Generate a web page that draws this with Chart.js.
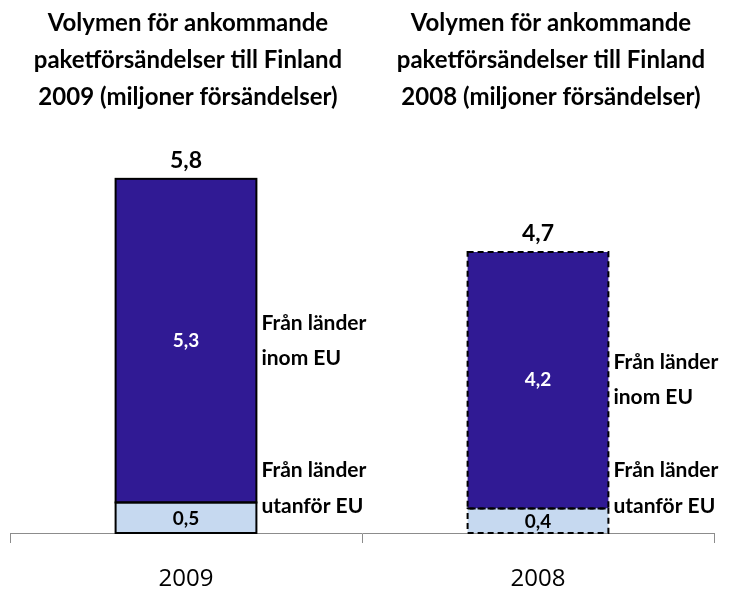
<!DOCTYPE html>
<html>
<head>
<meta charset="utf-8">
<script src="https://cdn.jsdelivr.net/npm/chart.js@4/dist/chart.umd.min.js"></script>
<style>
  html, body { margin: 0; padding: 0; background: #fff; }
  #wrap { width: 746px; height: 593px; }
</style>
</head>
<body>
<div id="wrap"><canvas id="chart"></canvas></div>
<script>
// Years on the x axis
const years = ['2009', '2008'];
// Parcel volumes, millions of items
const outsideEU = [0.5, 0.4];
const insideEU = [5.3, 4.2];
const totals = [5.8, 4.7];
// Headings above each bar
const headings = [
    ['Volymen för ankommande', 'paketförsändelser till Finland', '2009 (miljoner försändelser)'],
    ['Volymen för ankommande', 'paketförsändelser till Finland', '2008 (miljoner försändelser)']
];
const insideLabel = ['Från länder', 'inom EU'];
const outsideLabel = ['Från länder', 'utanför EU'];

const fmt = v => v.toFixed(1).replace('.', ',');
const FONT = 'Lato, "Open Sans", sans-serif';

// Draws borders (solid for 2009, dashed for 2008), value labels and side texts
const annotate = {
    id: 'annotate',
    afterDatasetsDraw(chart) {
        const ctx = chart.ctx;
        const xs = chart.scales.x;
        ctx.save();

        // borders
        chart.data.datasets.forEach((ds, di) => {
            chart.getDatasetMeta(di).data.forEach((bar, i) => {
                const left = bar.x - bar.width / 2;
                const top = Math.min(bar.y, bar.base);
                const h = Math.abs(bar.base - bar.y);
                ctx.lineWidth = 2;
                ctx.strokeStyle = '#000';
                ctx.setLineDash(i === 1 ? [6, 4] : []);
                ctx.strokeRect(left, top, bar.width, h);
            });
        });
        ctx.setLineDash([]);

        ctx.textAlign = 'center';
        ctx.textBaseline = 'middle';

        // segment values
        const outerMeta = chart.getDatasetMeta(0);
        const innerMeta = chart.getDatasetMeta(1);
        ctx.font = 'bold 19px ' + FONT;
        outerMeta.data.forEach((bar, i) => {
            ctx.fillStyle = '#000';
            ctx.fillText(fmt(outsideEU[i]), bar.x, (bar.y + bar.base) / 2 + 1);
        });
        innerMeta.data.forEach((bar, i) => {
            ctx.fillStyle = '#fff';
            ctx.fillText(fmt(insideEU[i]), bar.x, (bar.y + bar.base) / 2);
        });

        ctx.textBaseline = 'alphabetic';

        // totals above bars
        ctx.font = 'bold 23px ' + FONT;
        ctx.fillStyle = '#000';
        innerMeta.data.forEach((bar, i) => {
            ctx.fillText(fmt(totals[i]), bar.x, bar.y - 11);
        });

        // side labels
        ctx.textAlign = 'left';
        ctx.font = 'bold 21px ' + FONT;
        innerMeta.data.forEach((bar, i) => {
            const tx = bar.x + bar.width / 2 + 5;
            const mid = (bar.y + bar.base) / 2;
            ctx.fillText(insideLabel[0], tx, mid - 11);
            ctx.fillText(insideLabel[1], tx, mid + 24);
            const base = outerMeta.data[i].base;
            ctx.fillText(outsideLabel[0], tx, base - 56);
            ctx.fillText(outsideLabel[1], tx, base - 20);
        });

        // headings
        ctx.textAlign = 'center';
        ctx.font = 'bold 24px ' + FONT;
        headings.forEach((lines, i) => {
            const cx = xs.getPixelForValue(i) + (i === 0 ? 2 : 13);
            lines.forEach((t, k) => ctx.fillText(t, cx, 31 + k * 37));
        });

        ctx.restore();
    }
};

const ctx = document.getElementById('chart').getContext('2d');
new Chart(ctx, {
    type: 'bar',
    data: {
        labels: years,
        datasets: [{
            label: 'Från länder utanför EU',
            data: outsideEU,
            backgroundColor: '#C6D9F0',
            borderWidth: 0,
            categoryPercentage: 0.4,
            barPercentage: 1
        }, {
            label: 'Från länder inom EU',
            data: insideEU,
            backgroundColor: '#301A94',
            borderWidth: 0,
            categoryPercentage: 0.4,
            barPercentage: 1
        }]
    },
    options: {
        responsive: true,
        maintainAspectRatio: false,
        animation: false,
        layout: { padding: { top: 130, left: 10, right: 32, bottom: 0 } },
        scales: {
            x: {
                stacked: true,
                offset: true,
                afterFit(scale) { scale.height = 60; },
                grid: {
                    offset: true,
                    drawOnChartArea: false,
                    tickLength: 10,
                    color: '#8c8c8c'
                },
                border: { color: '#8c8c8c', width: 1 },
                ticks: {
                    color: '#000',
                    padding: 22,
                    font: { family: '"Open Sans", Lato, sans-serif', size: 24 }
                }
            },
            y: {
                stacked: true,
                display: false,
                min: 0,
                max: 6.6
            }
        },
        plugins: {
            legend: { display: false },
            tooltip: { enabled: false }
        }
    },
    plugins: [annotate]
});
</script>
</body>
</html>
